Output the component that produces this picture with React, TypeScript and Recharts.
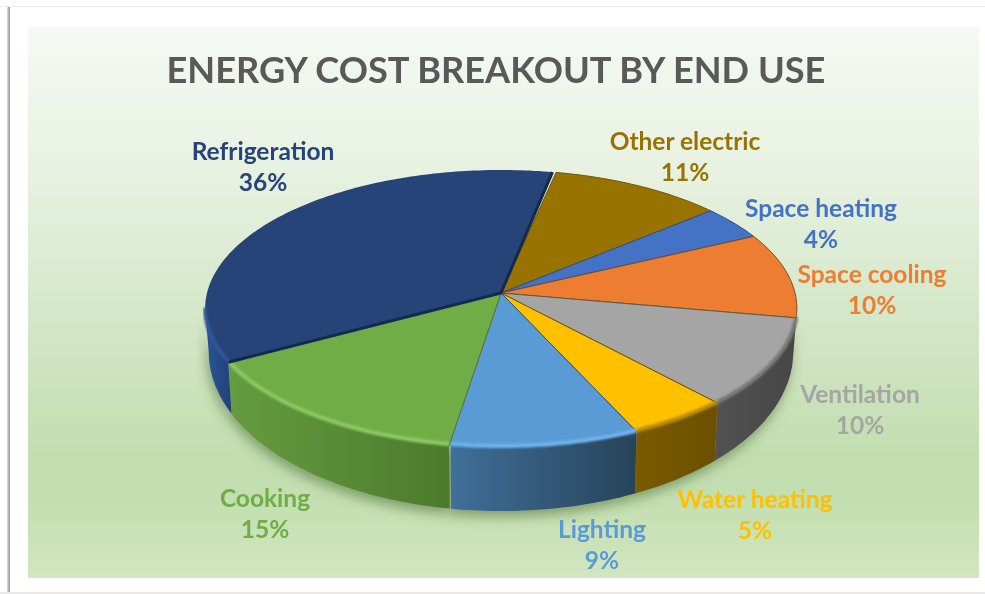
import { Pie, PieChart } from "recharts";

const categories = [
  "Other electric",
  "Space heating",
  "Space cooling",
  "Ventilation",
  "Water heating",
  "Lighting",
  "Cooking",
  "Refrigeration",
];
// estimated from the slice edges; the labels show them rounded
const shares = [10.52, 4, 10, 10.35, 5, 9.3, 14.55, 36.28];

const topColors = ["#997300", "#4472c4", "#ed7d31", "#a5a5a5", "#ffc000", "#5b9bd5", "#70ad47", "#264478"];
const edgeColors = ["#6f5500", "#2c4f8f", "#7a4a26", "#5a5a4a", "#6e5400", "#2f5578", "#4f8030", "#15294f"];
const rimColors = ["none", "none", "#a85a24", "#777777", "#b58a08", "#70b3ee", "#8ccb63", "#2f5797"];
const labelColors = ["#997300", "#4472c4", "#ed7d31", "#a5a5a5", "#ffc000", "#5b9bd5", "#70ad47", "#264478"];
const wallStops = [
  ["#6b5100", "#6b5100"],
  ["#2f4f88", "#2f4f88"],
  ["#a55722", "#a55722"],
  ["#525252", "#464646"],
  ["#7a5b00", "#6c5000"],
  ["#406f9a", "#264359"],
  ["#659c40", "#4c7a2d"],
  ["#2b5498", "#1f4278"],
];

// label centres, [x, y of the name line]
const labelAnchors = [
  [685, 142],
  [821, 209],
  [872, 275],
  [860, 395],
  [755, 500],
  [602, 530],
  [265, 499],
  [263, 152],
];

const pieData = categories.map((name, i) => ({ name, value: shares[i], idx: i }));

// The pie lies tilted away from the viewer, so a point on the rim goes through a
// perspective map: slices meet at the apex, which sits above the centre of the ellipse.
const APEX_X = 501;
const APEX_Y = 293;
const RX = 294;
const RY = 136.8;
const TILT = 0.112;
const FONT = "Lato, 'Open Sans', sans-serif";
const REFRIGERATION = 7;

function rimPoint(angle: number): [number, number] {
  const rad = (angle * Math.PI) / 180;
  const w = 1 + TILT * Math.sin(rad);
  return [APEX_X + (RX * Math.cos(rad)) / w, APEX_Y - (RY * Math.sin(rad)) / w];
}

function floorPoint(angle: number): [number, number] {
  const [x, y] = rimPoint(angle);
  const rad = (angle * Math.PI) / 180;
  const depth = 40 - 24 * Math.sin(rad);
  return [APEX_X + (x - APEX_X) * 0.988, y + depth];
}

function sweep(from: number, to: number, map: (a: number) => [number, number]) {
  const steps = Math.max(2, Math.ceil(Math.abs(to - from)));
  const pts: [number, number][] = [];
  for (let i = 0; i <= steps; i++) pts.push(map(from + ((to - from) * i) / steps));
  return pts;
}

const toPath = (pts: [number, number][]) =>
  pts.map((p, i) => `${i === 0 ? "M" : "L"}${p[0].toFixed(1)},${p[1].toFixed(1)}`).join(" ");

// Only the front of the rim has a visible wall: from the right silhouette round to the left one.
function frontRange(startAngle: number, endAngle: number): [number, number] | null {
  const right = -6.4;
  const left = -173.6;
  const hi = (a: number) => ((a % 360) + 360) % 360;
  const s = hi(startAngle);
  const span = startAngle - endAngle;
  let from: number | null = null;
  let to: number | null = null;
  for (let i = 0; i <= span * 4; i++) {
    const a = s - i / 4;
    const norm = hi(a) - 360;
    if (norm <= right && norm >= left) {
      if (from === null) from = a;
      to = a;
    }
  }
  return from === null || to === null ? null : [from, to];
}

function wallPath(startAngle: number, endAngle: number) {
  const range = frontRange(startAngle, endAngle);
  if (!range) return null;
  const top = sweep(range[0], range[1], rimPoint);
  const bottom = sweep(range[1], range[0], floorPoint);
  return toPath([...top, ...bottom]) + " Z";
}

function ShadowSector(props: any) {
  const d = wallPath(props.startAngle, props.endAngle);
  if (!d) return <g />;
  return <path d={d} fill="#3f5f2c" fillOpacity={0.5} filter="url(#pieShadow)" transform="translate(-2,6)" />;
}

function SolidSector(props: any) {
  const idx: number = props.idx ?? props.payload?.idx ?? 0;
  const { startAngle } = props;
  // the refrigeration slice stops just short of the first slice, which leaves the small notch at the top
  const endAngle = idx === REFRIGERATION ? props.endAngle + 0.8 : props.endAngle;
  const wall = wallPath(startAngle, endAngle);
  const range = frontRange(startAngle, endAngle);
  const arc = sweep(startAngle, endAngle, rimPoint);
  const top = `M${APEX_X},${APEX_Y} ` + toPath(arc).replace("M", "L") + " Z";
  const isRefrigeration = idx === REFRIGERATION;
  const first = arc[0];
  const last = arc[arc.length - 1];
  return (
    <g>
      {wall && <path d={wall} fill={`url(#wall${idx})`} />}
      <path
        d={top}
        fill={topColors[idx]}
        stroke={isRefrigeration ? "none" : edgeColors[idx]}
        strokeWidth={1}
        strokeLinejoin="round"
      />
      {isRefrigeration && (
        <path
          d={`M${first[0]},${first[1]} L${APEX_X},${APEX_Y} L${last[0]},${last[1]}`}
          fill="none"
          stroke={edgeColors[idx]}
          strokeWidth={3}
        />
      )}
      {range && rimColors[idx] !== "none" && (
        <path
          d={toPath(sweep(range[0], range[1], (a) => {
            const [x, y] = rimPoint(a);
            return [x, y - 1];
          }))}
          fill="none"
          stroke={rimColors[idx]}
          strokeWidth={4}
          filter="url(#rimSoft)"
        />
      )}
    </g>
  );
}

function renderLabel(props: any) {
  const idx: number = props.idx ?? props.payload?.idx ?? props.index ?? 0;
  const [x, y] = labelAnchors[idx];
  return (
    <text
      key={categories[idx]}
      x={x}
      y={y + 8}
      textAnchor="middle"
      fill={labelColors[idx]}
      fontFamily={FONT}
      fontWeight={700}
      fontSize={24.5}
    >
      <tspan x={x}>{categories[idx]}</tspan>
      <tspan x={x} dy={31}>{`${Math.round(shares[idx])}%`}</tspan>
    </text>
  );
}

export default function App() {
  return (
    <div
      style={{
        position: "relative",
        width: 985,
        height: 594,
        background: "#ffffff",
        overflow: "hidden",
        filter: "blur(0.5px)",
      }}
    >
      <style>{"body{margin:0}"}</style>
      {/* photographed frame: hairline on top and bottom, shadow down the left side */}
      <div style={{ position: "absolute", left: 0, right: 0, top: 6, height: 1, background: "#ececec" }} />
      <div style={{ position: "absolute", left: 0, right: 0, top: 592, height: 2, background: "#e8e8e8" }} />
      <div
        style={{
          position: "absolute",
          left: 7,
          top: 7,
          bottom: 2,
          width: 3,
          background: "linear-gradient(90deg, #e4e4e4, #8c8c8c)",
        }}
      />
      <div
        style={{
          position: "absolute",
          left: 28,
          top: 27,
          width: 951,
          height: 551,
          background:
            "linear-gradient(180deg, #f5f9f3 0%, #e8f2e2 25%, #d6e8ca 50%, #c2deb0 78%, #c3dfb1 86%, #d2e6c0 100%)",
        }}
      />
      <PieChart
        width={985}
        height={594}
        margin={{ top: 0, right: 0, bottom: 0, left: 0 }}
        style={{ position: "absolute", left: 0, top: 0 }}
      >
        <defs>
          <filter id="pieShadow" x="-20%" y="-20%" width="140%" height="140%">
            <feGaussianBlur stdDeviation="6" />
          </filter>
          <filter id="rimSoft" x="-5%" y="-30%" width="110%" height="160%">
            <feGaussianBlur stdDeviation="1.1" />
          </filter>
          {wallStops.map((stops, i) => (
            <linearGradient key={i} id={`wall${i}`} x1="0" y1="0" x2="1" y2="0">
              <stop offset="0%" stopColor={stops[0]} />
              <stop offset="100%" stopColor={stops[1]} />
            </linearGradient>
          ))}
        </defs>
        <text
          x={496}
          y={83}
          textAnchor="middle"
          fill="#595959"
          fontFamily={FONT}
          fontWeight={700}
          fontSize={36.2}
        >
          ENERGY COST BREAKOUT BY END USE
        </text>
        <Pie
          data={pieData}
          dataKey="value"
          nameKey="name"
          cx={APEX_X}
          cy={APEX_Y}
          outerRadius={RY}
          startAngle={78}
          endAngle={-282}
          shape={ShadowSector}
          isAnimationActive={false}
        />
        <Pie
          data={pieData}
          dataKey="value"
          nameKey="name"
          cx={APEX_X}
          cy={APEX_Y}
          outerRadius={RY}
          startAngle={78}
          endAngle={-282}
          shape={SolidSector}
          label={renderLabel}
          labelLine={false}
          isAnimationActive={false}
        />
      </PieChart>
    </div>
  );
}
